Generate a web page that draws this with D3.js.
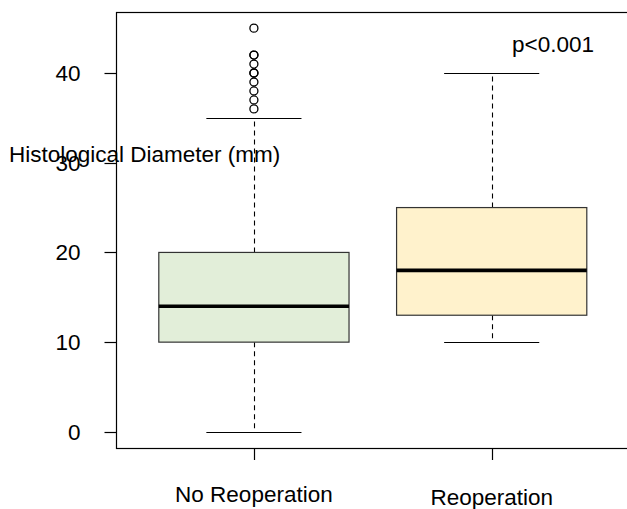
<!DOCTYPE html>
<html>
<head>
<meta charset="utf-8">
<script src="https://cdn.jsdelivr.net/npm/d3@7/dist/d3.min.js"></script>
<style>
  body { margin: 0; background: #fff; }
  svg text { font-family: "Liberation Sans", Arial, sans-serif; fill: #000; }
</style>
</head>
<body>
<svg id="chart" width="627" height="509"></svg>
<script>
// box statistics
var groups = ['No Reoperation', 'Reoperation'],
    lowerWhisker = [0, 10],
    lowerHinge = [10, 13],
    medians = [14, 18],
    upperHinge = [20, 25],
    upperWhisker = [35, 40],
    fills = ['#e2eed9', '#fff2cc'],
    outliers = [[36, 37, 38, 39, 40, 40, 41, 42, 42, 45], []],
    yTicks = [0, 10, 20, 30, 40];

var svg = d3.select('#chart'),
    m = { left: 116, top: 12, right: 629.6, bottom: 448 };

// R pads the range by 4% on each side
var y = d3.scaleLinear().domain([-1.8, 46.8]).range([m.bottom, m.top]);
var x = d3.scaleLinear().domain([0.42, 2.58]).range([m.left, m.right]);
var boxHalf = 0.4, capHalf = 0.2;

// frame
svg.append('rect')
  .attr('x', m.left + 0.5).attr('y', m.top + 0.5)
  .attr('width', m.right - m.left).attr('height', m.bottom - m.top)
  .attr('fill', 'none').attr('stroke', '#000').attr('stroke-width', 1.2);

// y axis
var yAxis = svg.append('g').attr('transform', 'translate(' + (m.left + 0.5) + ',0)');
yAxis.selectAll('line').data(yTicks).enter().append('line')
  .attr('x1', -12).attr('x2', 0)
  .attr('y1', function(d) { return Math.round(y(d)) + 0.5; })
  .attr('y2', function(d) { return Math.round(y(d)) + 0.5; })
  .attr('stroke', '#000').attr('stroke-width', 1.2);
yAxis.selectAll('text').data(yTicks).enter().append('text')
  .attr('x', -36).attr('y', function(d) { return y(d) + 8; })
  .attr('text-anchor', 'end').style('font-size', '22.5px')
  .text(function(d) { return d; });

// x axis ticks and labels
svg.selectAll('.xtick').data(groups).enter().append('line')
  .attr('class', 'xtick')
  .attr('x1', function(d, i) { return Math.round(x(i + 1)) + 0.5; })
  .attr('x2', function(d, i) { return Math.round(x(i + 1)) + 0.5; })
  .attr('y1', m.bottom).attr('y2', m.bottom + 12)
  .attr('stroke', '#000').attr('stroke-width', 1.2);
svg.selectAll('.xlab').data(groups).enter().append('text')
  .attr('class', 'xlab')
  .attr('x', function(d, i) { return x(i + 1); })
  .attr('y', function(d, i) { return i === 0 ? 502 : 505; })
  .attr('text-anchor', 'middle').style('font-size', '22.5px')
  .text(function(d) { return d; });

var g = svg.selectAll('.box').data(groups).enter().append('g').attr('class', 'box');

// dashed whiskers
g.append('line')
  .attr('x1', function(d, i) { return Math.round(x(i + 1)) + 0.5; })
  .attr('x2', function(d, i) { return Math.round(x(i + 1)) + 0.5; })
  .attr('y1', function(d, i) { return y(upperHinge[i]); })
  .attr('y2', function(d, i) { return y(upperWhisker[i]); })
  .attr('stroke', '#000').attr('stroke-width', 1.1).attr('stroke-dasharray', '5,4');
g.append('line')
  .attr('x1', function(d, i) { return Math.round(x(i + 1)) + 0.5; })
  .attr('x2', function(d, i) { return Math.round(x(i + 1)) + 0.5; })
  .attr('y1', function(d, i) { return y(lowerHinge[i]); })
  .attr('y2', function(d, i) { return y(lowerWhisker[i]); })
  .attr('stroke', '#000').attr('stroke-width', 1.1).attr('stroke-dasharray', '5,4');

// caps
[upperWhisker, lowerWhisker].forEach(function(arr) {
  g.append('line')
    .attr('x1', function(d, i) { return x(i + 1 - capHalf); })
    .attr('x2', function(d, i) { return x(i + 1 + capHalf); })
    .attr('y1', function(d, i) { return Math.round(y(arr[i])) + 0.5; })
    .attr('y2', function(d, i) { return Math.round(y(arr[i])) + 0.5; })
    .attr('stroke', '#000').attr('stroke-width', 1.2);
});

// boxes
g.append('rect')
  .attr('x', function(d, i) { return x(i + 1 - boxHalf); })
  .attr('width', function(d, i) { return x(i + 1 + boxHalf) - x(i + 1 - boxHalf); })
  .attr('y', function(d, i) { return y(upperHinge[i]); })
  .attr('height', function(d, i) { return y(lowerHinge[i]) - y(upperHinge[i]); })
  .attr('fill', function(d, i) { return fills[i]; })
  .attr('stroke', '#333').attr('stroke-width', 1.2);

// medians
g.append('line')
  .attr('x1', function(d, i) { return x(i + 1 - boxHalf); })
  .attr('x2', function(d, i) { return x(i + 1 + boxHalf); })
  .attr('y1', function(d, i) { return y(medians[i]); })
  .attr('y2', function(d, i) { return y(medians[i]); })
  .attr('stroke', '#000').attr('stroke-width', 3.6);

// outliers
g.each(function(d, i) {
  d3.select(this).selectAll('circle').data(outliers[i]).enter().append('circle')
    .attr('cx', x(i + 1)).attr('cy', function(v) { return y(v); })
    .attr('r', 4).attr('fill', 'none').attr('stroke', '#000').attr('stroke-width', 1.3);
});

// y label and p value
svg.append('text').attr('x', 9).attr('y', 162).style('font-size', '22.5px')
  .text('Histological Diameter (mm)');
svg.append('text').attr('x', 512).attr('y', 52).style('font-size', '22.5px')
  .text('p<0.001');
</script>
</body>
</html>
